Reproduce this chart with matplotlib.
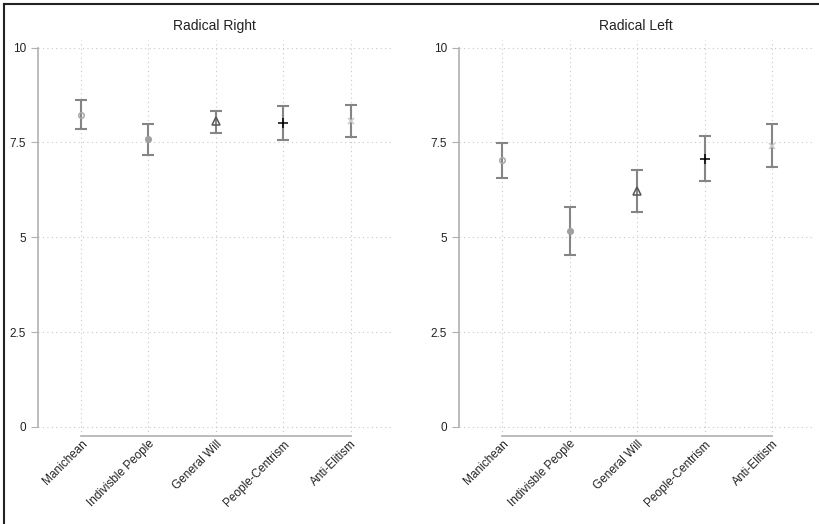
import matplotlib
matplotlib.use('Agg')
import matplotlib.pyplot as plt
from matplotlib.lines import Line2D

plt.rcParams['font.family'] = ['Liberation Sans', 'DejaVu Sans']

categories = ['Manichean', 'Indivisble People', 'General Will', 'People-Centrism', 'Anti-Elitism']
yticks = [0, 2.5, 5, 7.5, 10]
ytick_labels = ['0', '2.5', '5', '7.5', '10']

right_mean = [8.23, 7.59, 8.06, 8.01, 8.06]
right_low = [7.85, 7.18, 7.75, 7.56, 7.63]
right_high = [8.63, 7.99, 8.34, 8.45, 8.48]

left_mean = [7.03, 5.17, 6.23, 7.07, 7.41]
left_low = [6.57, 4.52, 5.67, 6.48, 6.85]
left_high = [7.49, 5.81, 6.78, 7.68, 7.98]

# marker per dimension: (marker, face, edge, size)
markers = [
    ('o', 'none', '#a8a8a8', 4),
    ('o', '#a0a0a0', '#a0a0a0', 4),
    ('^', 'none', '#555555', 6),
    ('+', 'none', '#000000', 7),
    ('x', 'none', '#c8c8c8', 4),
]

fig = plt.figure(figsize=(8.19, 5.24), dpi=100)
ax1 = fig.add_axes([38/819, 1-436/524, 353/819, 396/524])
ax2 = fig.add_axes([459/819, 1-436/524, 354/819, 396/524])


def panel(ax, title, mean, low, high):
    for i in range(len(categories)):
        ax.errorbar(i, mean[i], yerr=[[mean[i]-low[i]], [high[i]-mean[i]]],
                    fmt='none', ecolor='#858585', elinewidth=1.5, capsize=4,
                    capthick=1.5, zorder=3)
        m, fc, ec, s = markers[i]
        ax.plot(i, mean[i], marker=m, markerfacecolor=fc, markeredgecolor=ec,
                markersize=s, markeredgewidth=1.1, linestyle='none', zorder=4)
    ax.set_xlim(-0.64, 4.6)
    ax.set_ylim(-0.24, 10.2)
    ax.set_yticks(yticks)
    ax.set_yticklabels(ytick_labels)
    ax.set_xticks(range(len(categories)))
    ax.set_xticklabels(categories, rotation=45, ha='right', rotation_mode='anchor')
    ax.grid(True, linestyle=(0, (1, 3)), color='#c8c8c8', linewidth=0.8)
    ax.set_axisbelow(True)
    for s in ['top', 'right']:
        ax.spines[s].set_visible(False)
    ax.spines['left'].set_bounds(0, 10)
    ax.spines['bottom'].set_bounds(0, 4)
    ax.spines['left'].set_color('#b0b0b0')
    ax.spines['bottom'].set_color('#b0b0b0')
    ax.spines['left'].set_linewidth(1.2)
    ax.spines['bottom'].set_linewidth(1.2)
    ax.tick_params(axis='y', color='#b0b0b0', length=5, labelsize=8.5, labelcolor='#222222')
    ax.tick_params(axis='x', length=0, labelsize=8.5, pad=1.5, labelcolor='#222222')
    ax.set_title(title, fontsize=10, color='#222222', pad=7)


panel(ax1, 'Radical Right', right_mean, right_low, right_high)
panel(ax2, 'Radical Left', left_mean, left_low, left_high)

# outer frame (top and left edges visible)
fig.add_artist(Line2D([4/819, 1], [1-3.5/524, 1-3.5/524], color='#222222', linewidth=1.5))
fig.add_artist(Line2D([4/819, 4/819], [0, 1-3.5/524], color='#222222', linewidth=1.5))

fig.savefig('out.png', dpi=100)
